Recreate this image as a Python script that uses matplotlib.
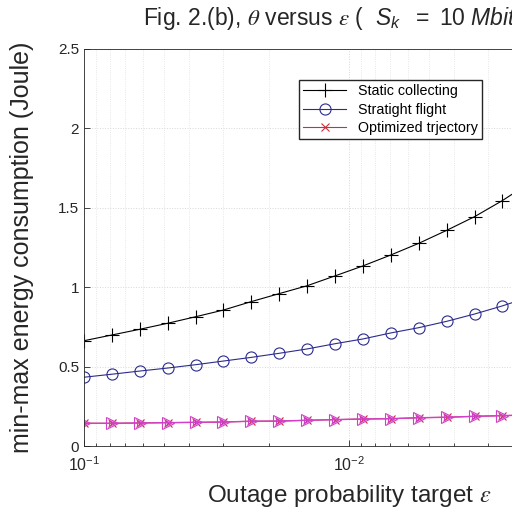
import matplotlib
matplotlib.use("Agg")
import matplotlib.pyplot as plt
from matplotlib.ticker import LogLocator, NullFormatter

plt.rcParams['font.family'] = ['Liberation Sans', 'DejaVu Sans']
plt.rcParams['mathtext.fontset'] = 'custom'
plt.rcParams['mathtext.rm'] = 'Liberation Sans'
plt.rcParams['mathtext.it'] = 'Liberation Sans:italic'
plt.rcParams['mathtext.cal'] = 'STIXGeneral:italic'
plt.rcParams['mathtext.fallback'] = 'stix'

# outage probability target (20 points, 1e-1 .. 1e-3)
eps = [0.1, 0.0785, 0.0616, 0.0483, 0.0379, 0.0298, 0.0234, 0.0183,
       0.0144, 0.0113, 0.00886, 0.00695, 0.00546, 0.00428, 0.00336,
       0.00264, 0.00207, 0.00162, 0.00127, 0.001]

static = [0.663, 0.699, 0.735, 0.773, 0.814, 0.856, 0.909, 0.960, 1.009,
          1.071, 1.134, 1.203, 1.276, 1.358, 1.444, 1.545, 1.66, 1.78,
          1.91, 2.05]
straight = [0.433, 0.452, 0.472, 0.491, 0.512, 0.535, 0.558, 0.584, 0.611,
            0.644, 0.674, 0.712, 0.745, 0.785, 0.831, 0.882, 0.94, 1.00,
            1.07, 1.15]
optimized = [0.143, 0.143, 0.145, 0.147, 0.149, 0.151, 0.156, 0.157, 0.162,
             0.166, 0.170, 0.172, 0.178, 0.181, 0.187, 0.191, 0.196, 0.201,
             0.207, 0.213]

fig = plt.figure(figsize=(5.12, 5.12), dpi=100)
# axes runs past the right edge, like the cropped original
ax = fig.add_axes([84 / 512, 66 / 512, 530 / 512, 397 / 512])

ax.plot(eps, static, color='black', lw=0.8, marker='+', ms=10, mew=0.8,
        label='Static collecting')
ax.plot(eps, straight, color='#2b2b8e', lw=0.8, marker='o', ms=8,
        mfc='none', mew=0.8, label='Stratight flight')
ax.plot(eps, optimized, color='#c8303c', lw=0.8, marker='x', ms=6,
        mew=0.8, label='Optimized trjectory')
ax.plot(eps, optimized, color='#d040c8', lw=1.0, marker='>', ms=9,
        mfc='none', mew=0.8)
ax.plot(eps, optimized, color='#d040c8', lw=0, marker='>', ms=5,
        mfc='none', mew=0.8)

ax.set_xscale('log')
ax.set_xlim(1e-1, 1e-3)
ax.set_ylim(0, 2.5)
ax.set_yticks([0, 0.5, 1, 1.5, 2, 2.5])
ax.set_yticklabels(['0', '0.5', '1', '1.5', '2', '2.5'])
ax.xaxis.set_major_locator(LogLocator(base=10, numticks=10))
ax.xaxis.set_minor_locator(LogLocator(base=10, subs=range(2, 10), numticks=20))
ax.xaxis.set_minor_formatter(NullFormatter())
ax.tick_params(labelsize=11, direction='in', length=4, width=0.6,
               colors='#262626')
ax.tick_params(axis='x', labelsize=11.5, pad=7)
ax.tick_params(which='minor', direction='in', length=2, width=0.5)

ax.grid(True, which='major', color='#d8d8d8', ls=':', lw=0.7)
ax.grid(True, which='minor', axis='x', color='#e0e0e0', ls=':', lw=0.6)
for s in ax.spines.values():
    s.set_color('#262626')
    s.set_linewidth(0.6)

ax.set_xlabel('Outage probability target $\\mathcal{\\epsilon}$',
              fontsize=17.5, color='#262626', labelpad=6)
ax.set_ylabel('min-max energy consumption (Joule)', fontsize=18,
              color='#262626', labelpad=17)
# title is cut by the right edge in the reference; anchor its left end
ax.text((143 - 84) / 530, 1 + 24 / 397,
        'Fig. 2.(b), $\\mathcal{\\theta}$ versus $\\mathcal{\\epsilon}$ (  '
        '$S_k\\ \\ =\\ 10\\ Mbits$ )',
        transform=ax.transAxes, ha='left', va='baseline',
        fontsize=16.5, color='#262626')

ax.legend(loc='upper left', bbox_to_anchor=(292 / 512, 1 - 73 / 512),
          bbox_transform=fig.transFigure, fontsize=10.3, frameon=True,
          fancybox=False, edgecolor='#262626', framealpha=1,
          borderpad=0.3, handlelength=3.0, labelspacing=0.3)

fig.savefig('out.png', dpi=100)
